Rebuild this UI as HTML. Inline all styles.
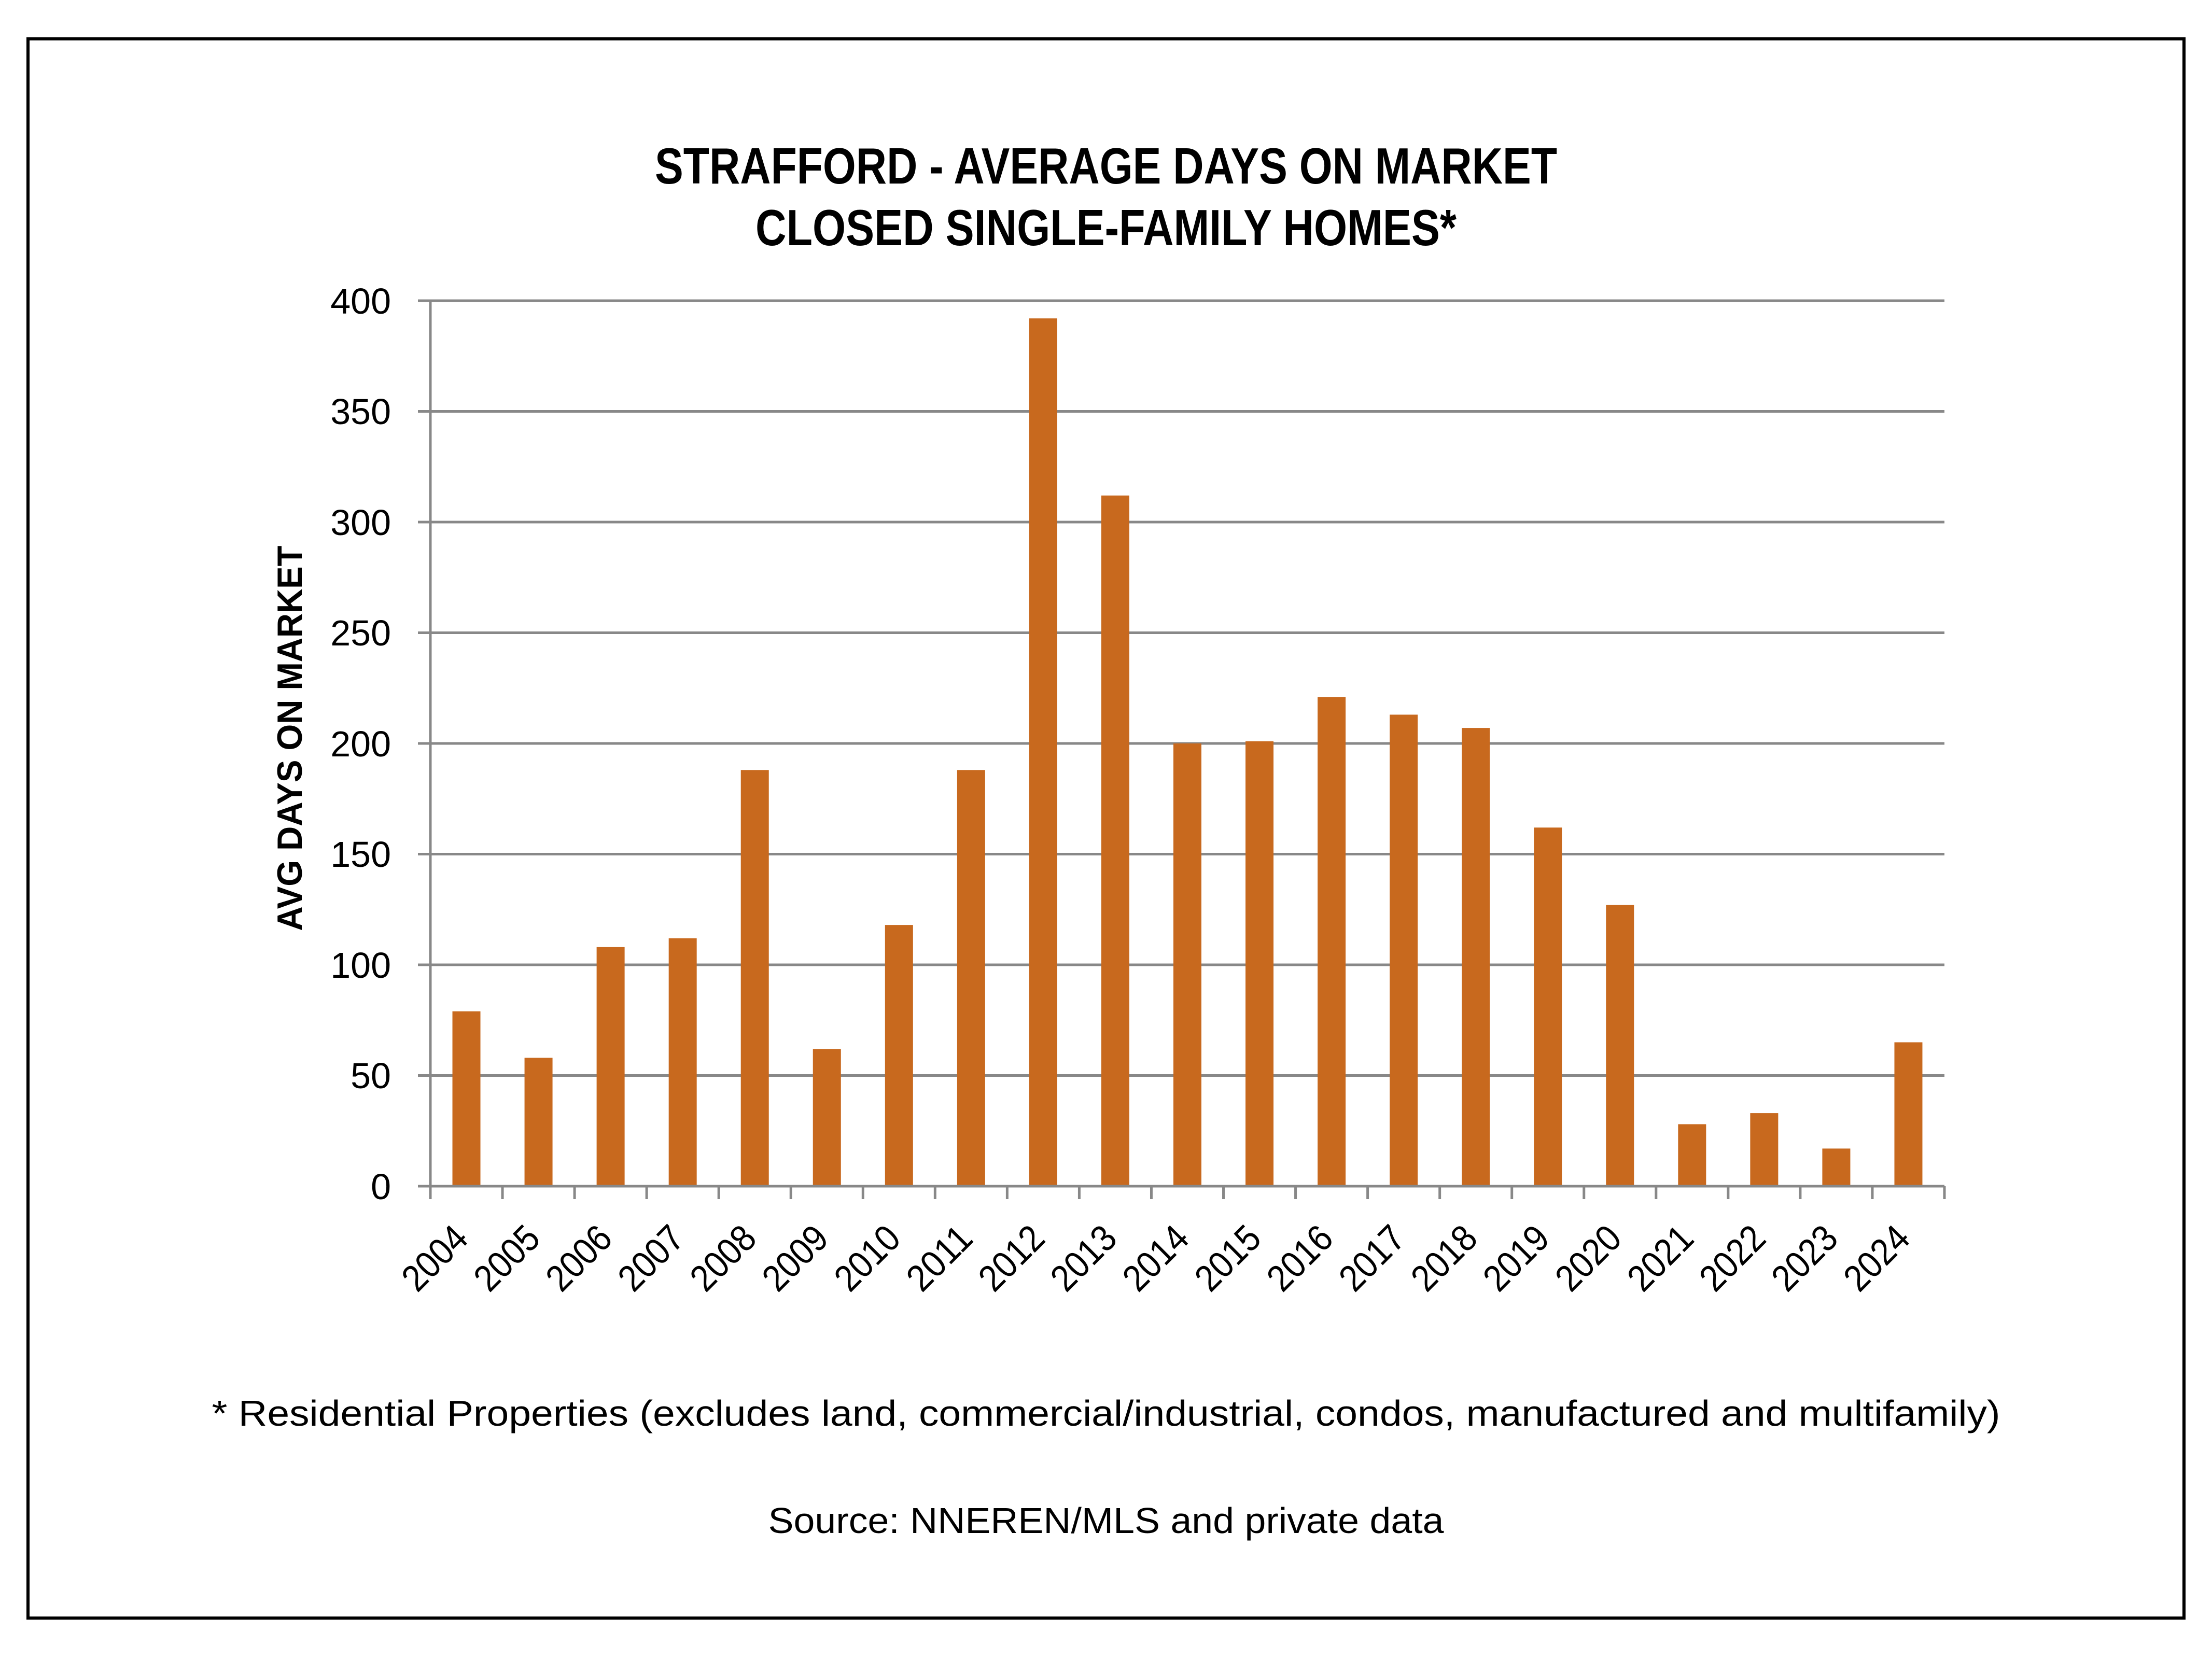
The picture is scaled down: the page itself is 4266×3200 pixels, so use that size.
<!DOCTYPE html>
<html><head><meta charset="utf-8"><style>html,body{margin:0;padding:0;background:#fff}svg{display:block}</style></head>
<body>
<svg width="4266" height="3200" viewBox="0 0 4266 3200" xmlns="http://www.w3.org/2000/svg" font-family="'Liberation Sans', sans-serif">
<rect x="0" y="0" width="4266" height="3200" fill="#fff"/>
<rect x="54" y="75" width="4158" height="3046" fill="none" stroke="#000" stroke-width="6"/>
<text x="2133" y="354" font-size="98" font-weight="bold" text-anchor="middle" textLength="1740" lengthAdjust="spacingAndGlyphs">STRAFFORD - AVERAGE DAYS ON MARKET</text>
<text x="2133" y="473" font-size="98" font-weight="bold" text-anchor="middle" textLength="1352" lengthAdjust="spacingAndGlyphs">CLOSED SINGLE-FAMILY HOMES*</text>
<g stroke="#888" stroke-width="5">
<line x1="806" y1="580" x2="3750" y2="580"/>
<line x1="806" y1="793.5" x2="3750" y2="793.5"/>
<line x1="806" y1="1007" x2="3750" y2="1007"/>
<line x1="806" y1="1220.5" x2="3750" y2="1220.5"/>
<line x1="806" y1="1434" x2="3750" y2="1434"/>
<line x1="806" y1="1647.5" x2="3750" y2="1647.5"/>
<line x1="806" y1="1861" x2="3750" y2="1861"/>
<line x1="806" y1="2074.5" x2="3750" y2="2074.5"/>
</g>
<g fill="#c8691e" id="bars"></g>
<g stroke="#888" stroke-width="5">
<line x1="830" y1="580" x2="830" y2="2288"/>
<line x1="806" y1="2288" x2="3750" y2="2288"/>
</g>
<g font-size="70" text-anchor="end">
<text x="754" y="605">400</text>
<text x="754" y="818">350</text>
<text x="754" y="1032">300</text>
<text x="754" y="1245">250</text>
<text x="754" y="1459">200</text>
<text x="754" y="1672">150</text>
<text x="754" y="1886">100</text>
<text x="754" y="2099">50</text>
<text x="754" y="2313">0</text>
</g>
<text transform="translate(582,1424) rotate(-90)" font-size="68" font-weight="bold" text-anchor="middle" textLength="743" lengthAdjust="spacingAndGlyphs">AVG DAYS ON MARKET</text>
<g id="xl"></g>
<text x="2133" y="2750" font-size="70" text-anchor="middle" textLength="3449" lengthAdjust="spacingAndGlyphs">* Residential Properties (excludes land, commercial/industrial, condos, manufactured and multifamily)</text>
<text x="2133" y="2957" font-size="70" text-anchor="middle" textLength="1303" lengthAdjust="spacingAndGlyphs">Source: NNEREN/MLS and private data</text>
<script>
var v=[79,58,108,112,188,62,118,188,392,312,200,201,221,213,207,162,127,28,33,17,65];
var ns="http://www.w3.org/2000/svg",b=document.getElementById("bars"),xl=document.getElementById("xl"),s=document.querySelector("svg");
var cw=(3750-830)/21,sc=1708/400;
for(var i=0;i<21;i++){
 var cx=830+cw*(i+0.5),h=v[i]*sc;
 var r=document.createElementNS(ns,"rect");
 r.setAttribute("x",cx-27);r.setAttribute("y",2288-h);r.setAttribute("width",54);r.setAttribute("height",h);b.appendChild(r);
 var t=document.createElementNS(ns,"line");var tx=830+cw*i;
 t.setAttribute("x1",tx);t.setAttribute("x2",tx);t.setAttribute("y1",2288);t.setAttribute("y2",2313);t.setAttribute("stroke","#888");t.setAttribute("stroke-width","5");s.appendChild(t);
 var l=document.createElementNS(ns,"text");
 l.setAttribute("transform","translate("+(cx+7)+",2393) rotate(-45)");
 l.setAttribute("font-size","72");l.setAttribute("text-anchor","end");
 l.setAttribute("textLength","144");l.setAttribute("lengthAdjust","spacingAndGlyphs");
 l.textContent=2004+i;xl.appendChild(l);
}
var t2=document.createElementNS(ns,"line");t2.setAttribute("x1",3750);t2.setAttribute("x2",3750);t2.setAttribute("y1",2288);t2.setAttribute("y2",2313);t2.setAttribute("stroke","#888");t2.setAttribute("stroke-width","5");s.appendChild(t2);
</script>
</svg>
</body></html>
